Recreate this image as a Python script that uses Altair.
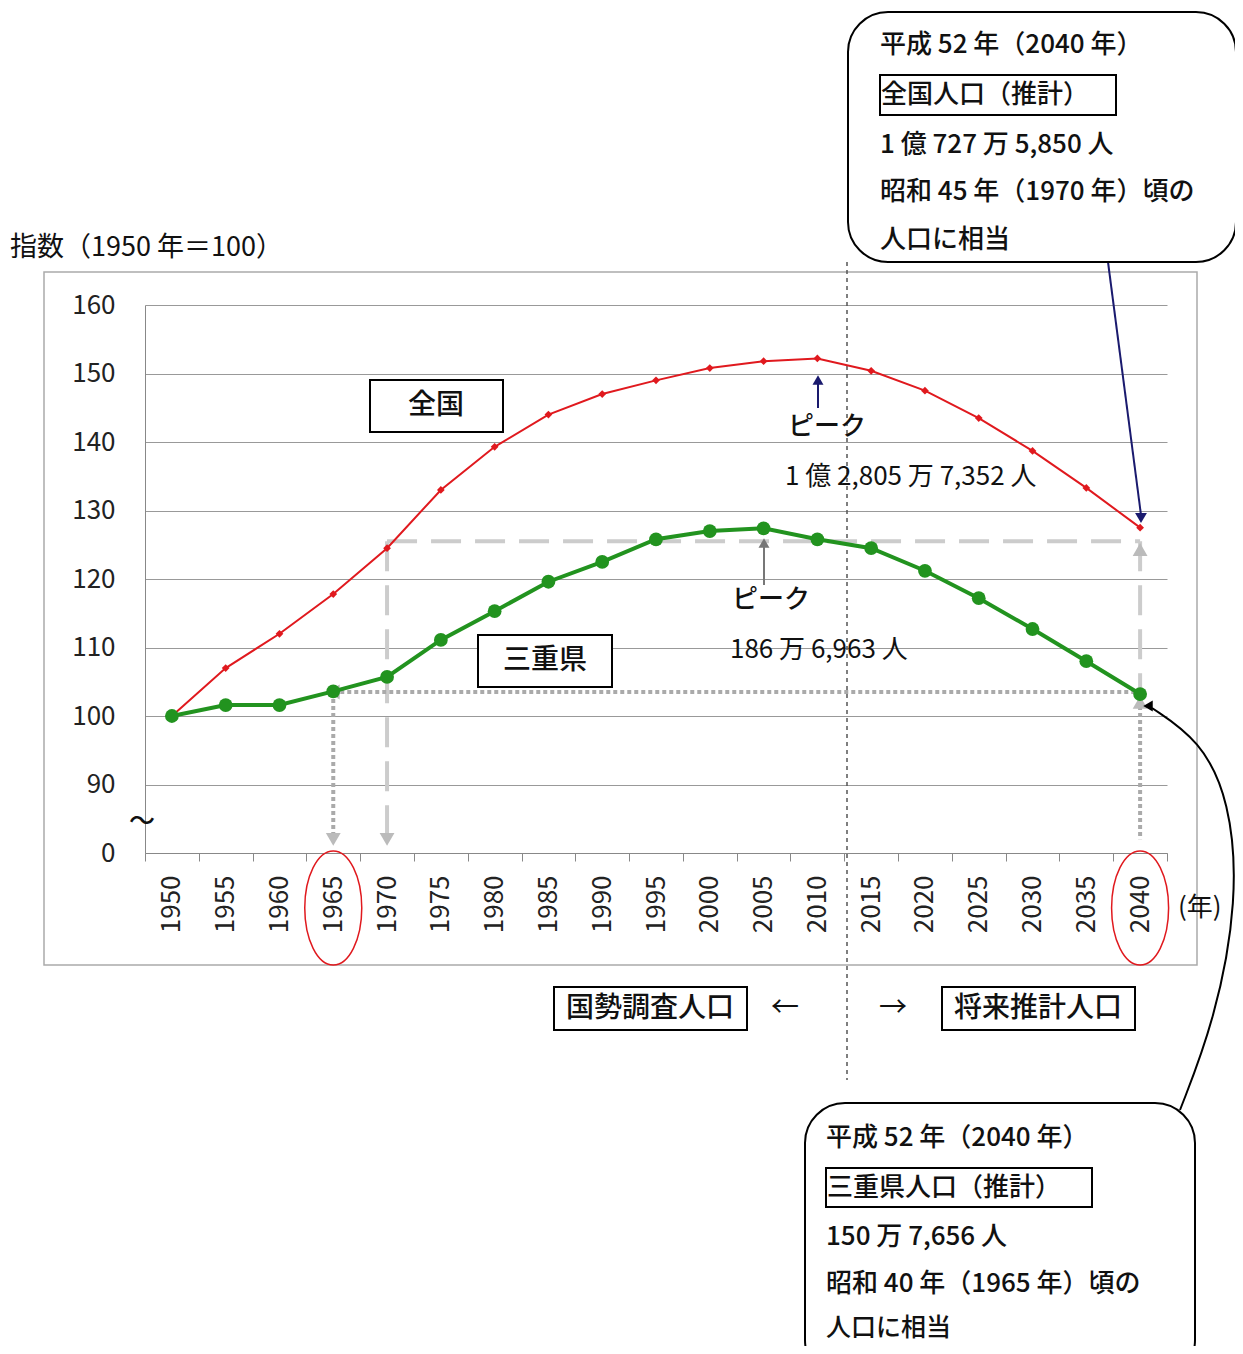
import altair as alt
import pandas as pd

years = list(range(1950, 2045, 5))
zenkoku = [100, 107, 112, 117.8, 124.5, 133, 139.3, 144, 147, 149, 150.8, 151.8, 152.2, 150.4, 147.5, 143.5, 138.7, 133.3, 127.5]
mie = [100, 101.6, 101.6, 103.6, 105.7, 111.1, 115.3, 119.6, 122.5, 125.8, 127, 127.4, 125.8, 124.5, 121.2, 117.2, 112.7, 108, 103.2]

F = "Noto Sans CJK JP"
OX, OY = 145, 305
W, H = 1022, 548

df = pd.DataFrame({"year": years, "zenkoku": zenkoku, "mie": mie})
xenc = alt.X("year:O", scale=alt.Scale(type="band", paddingInner=0, paddingOuter=0),
             axis=alt.Axis(title=None, labelAngle=-90, labelFontSize=26, labelFont=F, labelColor="#222",
                           labelPadding=14, tickBand="extent", tickSize=8, tickColor="#888", domainColor="#888", grid=False))
yscale = alt.Scale(domain=[80, 160], nice=False, zero=False)
yaxis = alt.Axis(title=None, values=list(range(80, 161, 10)), labelExpr="datum.value == 80 ? '0' : datum.value",
                 labelFontSize=26, labelFont=F, labelColor="#222", gridColor="#999", domainColor="#888",
                 tickSize=0, labelPadding=30)

base = alt.Chart(df)
red = base.mark_line(color="#e0191e", strokeWidth=2).encode(x=xenc, y=alt.Y("zenkoku:Q", scale=yscale, axis=yaxis))
redp = base.mark_point(shape="diamond", filled=True, color="#e0191e", size=60, opacity=1).encode(x="year:O", y="zenkoku:Q")
green = base.mark_line(color="#22931f", strokeWidth=4).encode(x="year:O", y="mie:Q")
greenp = base.mark_circle(color="#22931f", size=190, opacity=1).encode(x="year:O", y="mie:Q")

dashh = alt.Chart(pd.DataFrame({"a": [1970], "b": [2040], "v": [125.5]})).mark_rule(
    color="#cccccc", strokeWidth=4, strokeDash=[30, 14]).encode(x="a:O", x2="b:O", y="v:Q")
dashv = alt.Chart(pd.DataFrame({"a": [1970, 2040], "v1": [125.5, 125.5], "v2": [82, 103.5]})).mark_rule(
    color="#cccccc", strokeWidth=4, strokeDash=[30, 14]).encode(x="a:O", y="v1:Q", y2="v2:Q")
doth = alt.Chart(pd.DataFrame({"a": [1965], "b": [2040], "v": [103.5]})).mark_rule(
    color="#aaaaaa", strokeWidth=4, strokeDash=[4, 3]).encode(x="a:O", x2="b:O", y="v:Q")
dotv = alt.Chart(pd.DataFrame({"a": [1965, 2040], "v1": [103.5, 103.5], "v2": [82, 82]})).mark_rule(
    color="#aaaaaa", strokeWidth=4, strokeDash=[4, 3]).encode(x="a:O", y="v1:Q", y2="v2:Q")
heads = alt.Chart(pd.DataFrame({"a": [1965, 1970, 2040, 1965, 2040],
                                "v": [82, 82, 124.3, 103.5, 102],
                                "s": ["triangle-down", "triangle-down", "triangle-up", "triangle-left", "triangle-up"]})).mark_point(
    filled=True, color="#bbbbbb", size=220, opacity=1).encode(x="a:O", y="v:Q", shape=alt.Shape("s:N", scale=None))

ell = alt.Chart(pd.DataFrame({"a": [1965, 2040]})).mark_point(
    shape="M0,-1 A0.5,1 0 1,1 0,1 A0.5,1 0 1,1 0,-1 Z", size=13000, color="#e0191e", strokeWidth=1.5, filled=False, opacity=1
).encode(x="a:O", y=alt.value(908 - OY))

def v(g): return alt.value(g)

def rect(x1, y1, x2, y2, sw=2, col="black", cr=0):
    return alt.Chart(pd.DataFrame({"k": [0]})).mark_rect(fill="white", stroke=col, strokeWidth=sw, cornerRadius=cr).encode(
        x=v(x1 - OX), x2=v(x2 - OX), y=v(y1 - OY), y2=v(y2 - OY))

def rule(x1, y1, x2, y2, col="black", sw=2, dash=None):
    kw = dict(color=col, strokeWidth=sw)
    if dash: kw["strokeDash"] = dash
    return alt.Chart(pd.DataFrame({"k": [0]})).mark_rule(**kw).encode(
        x=v(x1 - OX), x2=v(x2 - OX), y=v(y1 - OY), y2=v(y2 - OY))

def txt(s, x, y, size=25, align="left", bold=False, col="#111"):
    return alt.Chart(pd.DataFrame({"t": [s]})).mark_text(font=F, fontSize=size, align=align, baseline="middle",
        fontWeight=500 if bold else "normal", color=col).encode(text="t:N", x=v(x - OX), y=v(y - OY))

def tri(x, y, shape, col, size=120):
    return alt.Chart(pd.DataFrame({"k": [0]})).mark_point(shape=shape, filled=True, color=col, size=size, opacity=1).encode(
        x=v(x - OX), y=v(y - OY))

outer = alt.Chart(pd.DataFrame({"k": [0]})).mark_rect(fill=None, stroke="#aaaaaa", strokeWidth=1.5).encode(
    x=v(44 - OX), x2=v(1197 - OX), y=v(272 - OY), y2=v(965 - OY))

layers = [outer, rule(847, 262, 847, 1080, col="#555", sw=1.5, dash=[4, 4]),
          dashh, dashv, doth, dotv, heads, red, redp, green, greenp, ell,
          rect(370, 380, 503, 432), txt("全国", 436, 406, 28, "center", True),
          rect(478, 635, 612, 687), txt("三重県", 545, 661, 28, "center", True),
          rule(818, 408, 818, 380, col="#1a1a6e", sw=2), tri(818, 380, "triangle-up", "#1a1a6e"),
          txt("ピーク", 788, 427, 26, bold=True), txt("1 億 2,805 万 7,352 人", 785, 477, 26),
          rule(764, 585, 764, 542, col="#777", sw=2), tri(764, 543, "triangle-up", "#777"),
          txt("ピーク", 732, 600, 26, bold=True), txt("186 万 6,963 人", 730, 650, 26),
          txt("〜", 142, 822, 26, "center", True), txt("(年)", 1178, 908, 26),
          txt("指数（1950 年＝100）", 10, 248, 27),
          rect(554, 987, 747, 1030), txt("国勢調査人口", 650, 1009, 28, "center", True), txt("←", 785, 1009, 28, "center"),
          txt("→", 893, 1009, 28, "center"), rect(942, 987, 1135, 1030), txt("将来推計人口", 1038, 1009, 28, "center", True),
          rule(1108, 262, 1141, 515, col="#1a1a6e", sw=2), tri(1141, 518, "triangle-down", "#1a1a6e", 140),
          rect(848, 12, 1236, 262, sw=2, cr=40),
          txt("平成 52 年（2040 年）", 880, 45, 26, bold=True), rect(880, 75, 1116, 115),
          txt("全国人口（推計）", 881, 95, 26, bold=True), txt("1 億 727 万 5,850 人", 880, 145, 26, bold=True),
          txt("昭和 45 年（1970 年）頃の", 880, 192, 26, bold=True), txt("人口に相当", 880, 240, 26, bold=True),
          ]
curve = pd.DataFrame({"px": [1180 - OX, 1215 - OX, 1238 - OX, 1230 - OX, 1200 - OX, 1152 - OX],
                      "py": [1110 - OY, 1020 - OY, 900 - OY, 800 - OY, 740 - OY, 708 - OY], "o": range(6)})
layers.append(alt.Chart(curve).mark_line(color="black", strokeWidth=2, interpolate="basis").encode(
    x=alt.X("px:Q", scale=None), y=alt.Y("py:Q", scale=None), order="o:Q"))
layers.append(tri(1148, 706, "triangle-left", "black", 120))
layers += [rect(805, 1103, 1195, 1380, sw=2, cr=40),
           txt("平成 52 年（2040 年）", 826, 1138, 26, bold=True), rect(826, 1168, 1092, 1207),
           txt("三重県人口（推計）", 827, 1188, 26, bold=True), txt("150 万 7,656 人", 826, 1237, 26, bold=True),
           txt("昭和 40 年（1965 年）頃の", 826, 1284, 26, bold=True), txt("人口に相当", 826, 1328, 25, bold=True)]

chart = alt.layer(*layers).properties(
    width=W, height=H, autosize=alt.AutoSizeParams(type="none"),
    padding={"left": OX - 8, "top": OY - 8, "right": 1243 - 16 - OX - W + 8, "bottom": 1354 - 16 - OY - H + 8},
    background="white"
).configure_view(stroke=None)

chart.save("out.html", embed_options={"renderer": "svg", "actions": False})
